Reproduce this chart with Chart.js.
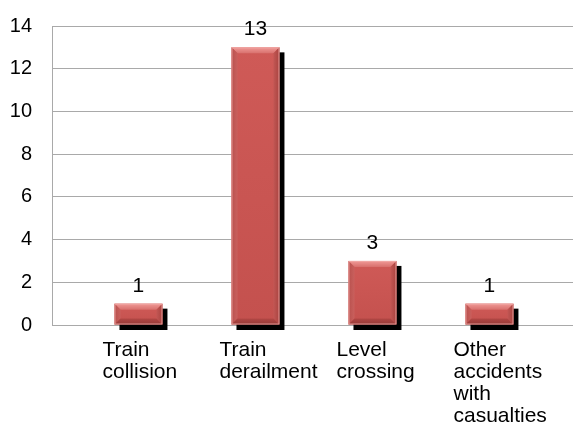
<!DOCTYPE html>
<html>
<head>
<meta charset="utf-8">
<script src="https://cdn.jsdelivr.net/npm/chart.js@4/dist/chart.umd.min.js"></script>
<style>
  html, body { margin: 0; padding: 0; background: #ffffff; }
  #wrap { width: 573px; height: 424px; position: relative; }
</style>
</head>
<body>
<div id="wrap"><canvas id="chart"></canvas></div>
<script>
// Accident categories (each entry is the wrapped lines of the axis label)
const categories = [
  ['Train', 'collision'],
  ['Train', 'derailment'],
  ['Level', 'crossing'],
  ['Other', 'accidents', 'with', 'casualties']
];
// Number of accidents per category
const accidentCounts = [1, 13, 3, 1];
// Value axis ticks
const yTicks = [0, 2, 4, 6, 8, 10, 12, 14];

const FONT = '"Liberation Sans", Arial, sans-serif';
const GRID = '#a9a9a9';

// Bevelled face, drop shadow and value label for every bar
const bevelBars = {
  id: 'bevelBars',
  beforeDatasetsDraw(chart) {
    const ctx = chart.ctx;
    const meta = chart.getDatasetMeta(0);
    ctx.save();
    meta.data.forEach(el => {
      const p = el.getProps(['x', 'y', 'base', 'width'], true);
      const l = p.x - p.width / 2, t = p.y, h = p.base - p.y;
      ctx.filter = 'blur(0.6px)';
      ctx.fillStyle = '#000000';
      ctx.fillRect(l + 5, t + 5, p.width, h + 0.5);
      ctx.filter = 'none';
    });
    ctx.restore();
  },
  afterDatasetsDraw(chart) {
    const ctx = chart.ctx;
    const meta = chart.getDatasetMeta(0);
    const values = chart.data.datasets[0].data;
    ctx.save();
    meta.data.forEach((el, i) => {
      const p = el.getProps(['x', 'y', 'base', 'width'], true);
      const L = p.x - p.width / 2, R = p.x + p.width / 2, T = p.y, B = p.base;
      const b = Math.min(6, (B - T) / 2.2);

      // face shading
      const face = ctx.createLinearGradient(0, T, 0, B);
      face.addColorStop(0, '#cf5a57');
      face.addColorStop(1, '#c4514e');
      ctx.fillStyle = face;
      ctx.fillRect(L, T, R - L, B - T);

      const quad = (pts, fill) => {
        ctx.beginPath();
        ctx.moveTo(pts[0][0], pts[0][1]);
        for (let k = 1; k < pts.length; k++) ctx.lineTo(pts[k][0], pts[k][1]);
        ctx.closePath();
        ctx.fillStyle = fill;
        ctx.fill();
      };
      // top bevel (lit)
      const top = ctx.createLinearGradient(0, T, 0, T + b);
      top.addColorStop(0, '#f09a97');
      top.addColorStop(1, '#d8706d');
      quad([[L, T], [R, T], [R - b, T + b], [L + b, T + b]], top);
      // left bevel
      const left = ctx.createLinearGradient(L, 0, L + b, 0);
      left.addColorStop(0, '#b8504d');
      left.addColorStop(1, '#c9605d');
      quad([[L, T], [L + b, T + b], [L + b, B - b], [L, B]], left);
      // right bevel
      const right = ctx.createLinearGradient(R - b, 0, R, 0);
      right.addColorStop(0, '#c25754');
      right.addColorStop(1, '#a9423f');
      quad([[R, T], [R, B], [R - b, B - b], [R - b, T + b]], right);
      // bottom bevel (shaded)
      const bot = ctx.createLinearGradient(0, B - b, 0, B);
      bot.addColorStop(0, '#b24744');
      bot.addColorStop(1, '#963a37');
      quad([[L, B], [L + b, B - b], [R - b, B - b], [R, B]], bot);
      // thin light rim
      ctx.strokeStyle = 'rgba(240,170,168,0.8)';
      ctx.lineWidth = 1;
      ctx.strokeRect(L + 0.5, T + 0.5, R - L - 1, B - T - 1);

      // value label
      ctx.fillStyle = '#000000';
      ctx.font = '21px ' + FONT;
      ctx.textAlign = 'center';
      ctx.textBaseline = 'alphabetic';
      ctx.fillText(String(values[i].y), p.x, T - 12);
    });
    ctx.restore();
  }
};

new Chart(document.getElementById('chart'), {
  type: 'bar',
  data: {
    datasets: [{
      data: accidentCounts.map((v, i) => ({ x: i, y: v })),
      backgroundColor: 'rgba(0,0,0,0)',
      borderWidth: 0,
      categoryPercentage: 1,
      barPercentage: 0.41
    }]
  },
  options: {
    responsive: true,
    maintainAspectRatio: false,
    animation: false,
    devicePixelRatio: 1,
    layout: { padding: { top: 26, right: 0, bottom: 0, left: 0 } },
    plugins: { legend: { display: false }, tooltip: { enabled: false } },
    scales: {
      x: {
        type: 'linear',
        offset: false,
        min: -0.739,
        max: 3.714,
        grid: { display: false, drawTicks: false, offset: false },
        border: { display: false },
        afterBuildTicks(scale) {
          scale.ticks = categories.map((_, i) => ({ value: i }));
        },
        afterFit(scale) {
          scale.height = 99;
          scale.paddingLeft = 0;
          scale.paddingRight = 0;
        },
        ticks: {
          autoSkip: false,
          maxRotation: 0,
          align: 'start',
          labelOffset: -36,
          padding: 14,
          color: '#000000',
          font: { family: FONT, size: 21, lineHeight: '22px' },
          callback: (value) => categories[value] || ''
        }
      },
      y: {
        min: yTicks[0],
        max: yTicks[yTicks.length - 1],
        afterBuildTicks(scale) {
          scale.ticks = yTicks.map(v => ({ value: v }));
        },
        afterFit(scale) {
          scale.width = 52;
          scale.paddingTop = 0;
          scale.paddingBottom = 0;
        },
        grid: { color: GRID, lineWidth: 1, drawTicks: false },
        border: { display: true, color: GRID, width: 1 },
        ticks: {
          padding: 20,
          color: '#000000',
          font: { family: FONT, size: 20 }
        }
      }
    }
  },
  plugins: [bevelBars]
});
</script>
</body>
</html>
